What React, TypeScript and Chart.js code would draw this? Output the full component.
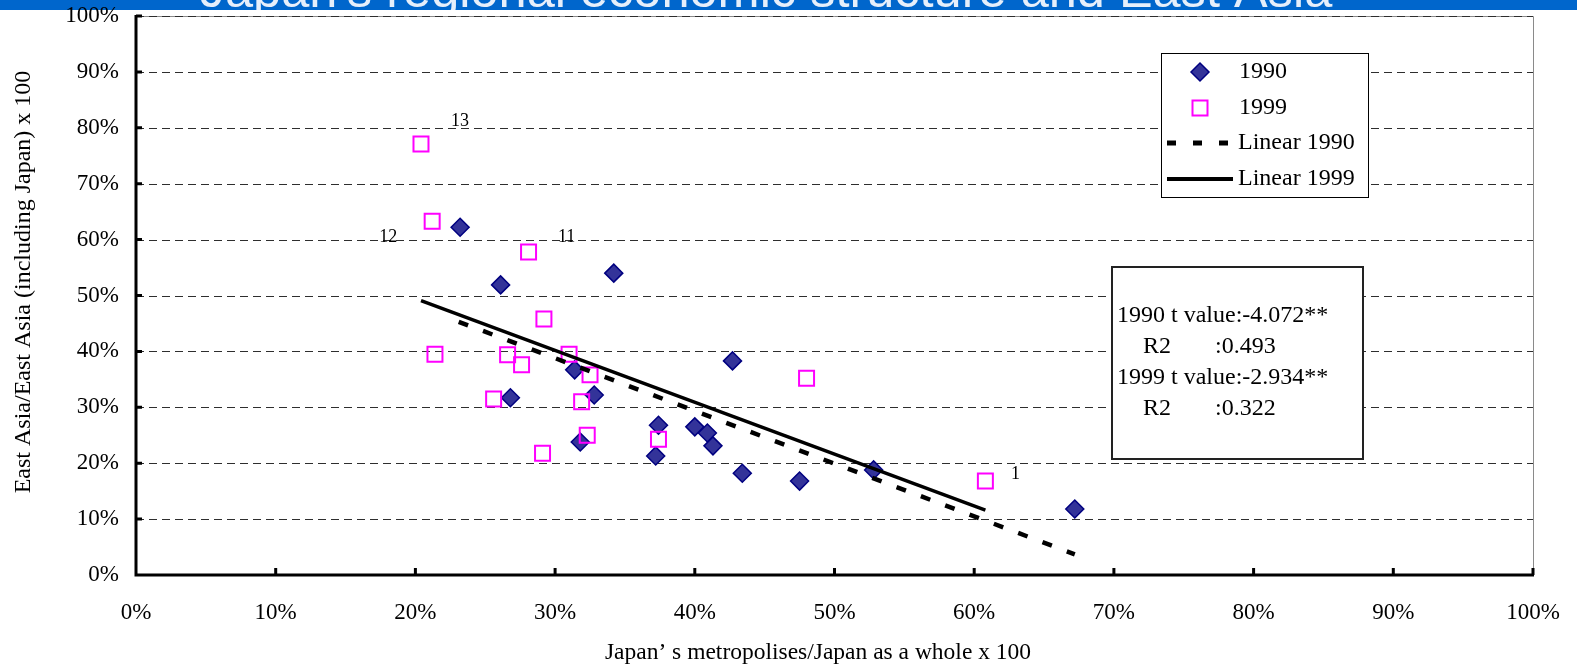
import React, { useEffect, useRef } from 'react';
import { Chart, registerables } from 'chart.js';

Chart.register(...registerables);

// ---------- data ----------
const slideTitle = "Japan's regional economic structure and East Asia";
const xAxisTitle = 'Japan’ s metropolises/Japan as a whole x 100';
const yAxisTitle = 'East Asia/East Asia (including Japan) x 100';

const tickValues = [0, 10, 20, 30, 40, 50, 60, 70, 80, 90, 100];

const x1990 = [23.2, 26.1, 34.2, 26.8, 31.4, 32.8, 31.8, 37.4, 37.2, 40.0, 40.9, 41.3, 42.7, 43.4, 47.5, 52.8, 67.2];
const y1990 = [62.2, 51.9, 54.0, 31.7, 36.7, 32.2, 23.8, 26.8, 21.3, 26.5, 25.4, 23.1, 38.3, 18.2, 16.8, 18.8, 11.8];

const x1999 = [20.4, 21.2, 28.1, 29.2, 21.4, 26.6, 27.6, 31.0, 32.5, 25.6, 31.9, 32.3, 29.1, 37.4, 48.0, 60.8];
const y1999 = [77.1, 63.3, 57.8, 45.8, 39.5, 39.4, 37.6, 39.5, 35.8, 31.5, 31.0, 25.0, 21.8, 24.3, 35.2, 16.8];

const trend1990X = [23.1, 67.2];
const trend1990Y = [45.3, 3.7];
const trend1999X = [20.4, 60.8];
const trend1999Y = [49.1, 11.6];

const legendLabels = ['1990', '1999', 'Linear 1990', 'Linear 1999'];
const statLeft = ['1990 t value:-4.072**', 'R2', '1999 t value:-2.934**', 'R2'];
const statRight = ['', ':0.493', '', ':0.322'];

// point labels: text and the 1999 point index they belong to
const pointLabelTexts = ['13', '12', '11', '1'];
const pointLabelIndex = [0, 1, 2, 15];

// ---------- styles / layout ----------
const W = 1577;
const H = 670;
const SERIF = '"Liberation Serif", "Times New Roman", Times, serif';
const BANNER_BLUE = '#0066cc';
const DIAMOND_FILL = '#333399';
const DIAMOND_EDGE = '#000080';
const SQUARE_EDGE = '#ff00ff';
const labelOffsets = [
  [39, -23],
  [-44, 16],
  [38, -15],
  [30, -7],
];

const toPts = (xs: number[], ys: number[]) => xs.map((x, i) => ({ x, y: ys[i] }));

const decorPlugin = {
  id: 'decor',
  beforeDraw(chart: any) {
    const ctx = chart.ctx as CanvasRenderingContext2D;
    ctx.save();
    ctx.fillStyle = '#ffffff';
    ctx.fillRect(0, 0, W, H);
    ctx.fillStyle = BANNER_BLUE;
    ctx.fillRect(0, 0, W, 10);
    ctx.beginPath();
    ctx.rect(0, 0, W, 10);
    ctx.clip();
    ctx.font = '50.5px "Liberation Sans", Arial, sans-serif';
    ctx.textAlign = 'center';
    ctx.textBaseline = 'alphabetic';
    ctx.fillStyle = '#e6effb';
    ctx.fillText(slideTitle, 766, 7);
    ctx.restore();
  },
  beforeDatasetsDraw(chart: any) {
    const ctx = chart.ctx as CanvasRenderingContext2D;
    const { left, right, top, bottom } = chart.chartArea;
    const xs = chart.scales.x;
    const ys = chart.scales.y;
    ctx.save();
    // thin plot border (top/right)
    ctx.strokeStyle = '#8a8a8a';
    ctx.lineWidth = 1;
    ctx.beginPath();
    ctx.moveTo(left, top + 0.5);
    ctx.lineTo(right + 0.5, top + 0.5);
    ctx.lineTo(right + 0.5, bottom);
    ctx.stroke();
    // dashed horizontal gridlines
    ctx.strokeStyle = '#2e2e2e';
    ctx.setLineDash([8, 5]);
    ctx.beginPath();
    tickValues.forEach((v) => {
      if (v === 0) return;
      const py = Math.round(ys.getPixelForValue(v)) + 0.5;
      ctx.moveTo(left, py);
      ctx.lineTo(right, py);
    });
    ctx.stroke();
    ctx.setLineDash([]);
    // thick axes
    ctx.strokeStyle = '#000';
    ctx.lineWidth = 3;
    ctx.beginPath();
    ctx.moveTo(left, top - 1);
    ctx.lineTo(left, bottom + 1.5);
    ctx.moveTo(left - 1.5, bottom);
    ctx.lineTo(right + 1, bottom);
    ctx.stroke();
    // inside tick marks
    ctx.beginPath();
    tickValues.forEach((v) => {
      if (v === 0) return;
      const px = xs.getPixelForValue(v);
      ctx.moveTo(px, bottom);
      ctx.lineTo(px, bottom - 7);
      const py = ys.getPixelForValue(v);
      ctx.moveTo(left, py);
      ctx.lineTo(left + 6, py);
    });
    ctx.stroke();
    ctx.restore();
  },
  afterDatasetsDraw(chart: any) {
    const ctx = chart.ctx as CanvasRenderingContext2D;
    const xs = chart.scales.x;
    const ys = chart.scales.y;
    ctx.save();
    // point labels
    ctx.fillStyle = '#000';
    ctx.font = `18px ${SERIF}`;
    ctx.textAlign = 'center';
    ctx.textBaseline = 'middle';
    pointLabelTexts.forEach((t, i) => {
      const idx = pointLabelIndex[i];
      const px = xs.getPixelForValue(x1999[idx]) + labelOffsets[i][0];
      const py = ys.getPixelForValue(y1999[idx]) + labelOffsets[i][1];
      ctx.fillText(t, px, py);
    });

    // legend box
    ctx.fillStyle = '#fff';
    ctx.fillRect(1161, 53, 207, 144);
    ctx.strokeStyle = '#000';
    ctx.lineWidth = 1;
    ctx.strokeRect(1161.5, 53.5, 207, 144);
    const rowY = [72, 108, 143, 179];
    // diamond
    ctx.beginPath();
    ctx.moveTo(1200 - 9, rowY[0]);
    ctx.lineTo(1200, rowY[0] - 9);
    ctx.lineTo(1200 + 9, rowY[0]);
    ctx.lineTo(1200, rowY[0] + 9);
    ctx.closePath();
    ctx.fillStyle = DIAMOND_FILL;
    ctx.fill();
    ctx.strokeStyle = DIAMOND_EDGE;
    ctx.lineWidth = 1.5;
    ctx.stroke();
    // square
    ctx.strokeStyle = SQUARE_EDGE;
    ctx.lineWidth = 2;
    ctx.strokeRect(1192.5, rowY[1] - 7.5, 15, 15);
    // dashed line
    ctx.strokeStyle = '#000';
    ctx.lineWidth = 5;
    ctx.setLineDash([9, 17]);
    ctx.beginPath();
    ctx.moveTo(1167, rowY[2]);
    ctx.lineTo(1232, rowY[2]);
    ctx.stroke();
    ctx.setLineDash([]);
    ctx.lineWidth = 4;
    ctx.beginPath();
    ctx.moveTo(1167, rowY[3]);
    ctx.lineTo(1233, rowY[3]);
    ctx.stroke();
    ctx.fillStyle = '#000';
    ctx.font = `24px ${SERIF}`;
    ctx.textAlign = 'left';
    ctx.textBaseline = 'middle';
    ctx.fillText(legendLabels[0], 1239, rowY[0]);
    ctx.fillText(legendLabels[1], 1239, rowY[1]);
    ctx.fillText(legendLabels[2], 1238, rowY[2]);
    ctx.fillText(legendLabels[3], 1238, rowY[3]);

    // statistics box
    ctx.fillStyle = '#fff';
    ctx.fillRect(1112, 267, 251, 192);
    ctx.strokeStyle = '#222';
    ctx.lineWidth = 2;
    ctx.strokeRect(1112, 267, 251, 192);
    ctx.fillStyle = '#000';
    const statY = [316, 347, 378, 409];
    statLeft.forEach((t, i) => {
      const isR = t === 'R2';
      ctx.fillText(t, isR ? 1143 : 1117, statY[i]);
      if (statRight[i]) ctx.fillText(statRight[i], 1215, statY[i]);
    });

    // axis titles
    ctx.font = `23.5px ${SERIF}`;
    ctx.textAlign = 'center';
    ctx.fillText(xAxisTitle, 818, 653);
    ctx.font = `24px ${SERIF}`;
    ctx.translate(24, 282);
    ctx.rotate(-Math.PI / 2);
    ctx.fillText(yAxisTitle, 0, 0);
    ctx.restore();
  },
};

export default function App() {
  const ref = useRef<HTMLCanvasElement | null>(null);
  useEffect(() => {
    if (!ref.current) return;
    const chart = new Chart(ref.current, {
      type: 'scatter',
      data: {
        datasets: [
          {
            label: 'Linear 1990',
            data: toPts(trend1990X, trend1990Y),
            showLine: true,
            borderColor: '#000',
            borderWidth: 4.5,
            borderDash: [10, 16],
            pointRadius: 0,
            order: 0,
          },
          {
            label: 'Linear 1999',
            data: toPts(trend1999X, trend1999Y),
            showLine: true,
            borderColor: '#000',
            borderWidth: 3.5,
            pointRadius: 0,
            order: 0,
          },
          {
            label: '1999',
            data: toPts(x1999, y1999),
            pointStyle: 'rect',
            pointRadius: 10.6,
            borderWidth: 2,
            borderColor: SQUARE_EDGE,
            backgroundColor: 'rgba(255,255,255,0)',
            order: 1,
          },
          {
            label: '1990',
            data: toPts(x1990, y1990),
            pointStyle: 'rectRot',
            pointRadius: 9,
            borderWidth: 1.5,
            borderColor: DIAMOND_EDGE,
            backgroundColor: DIAMOND_FILL,
            order: 2,
          },
        ],
      },
      options: {
        responsive: false,
        animation: false,
        events: [],
        layout: { padding: { left: 0, right: 44, top: 16, bottom: 0 } },
        plugins: { legend: { display: false }, tooltip: { enabled: false } },
        scales: {
          x: {
            type: 'linear',
            min: 0,
            max: 100,
            afterFit: (s: any) => {
              s.height = 95;
              s.paddingLeft = 0;
              s.paddingRight = 0;
              s.paddingTop = 0;
              s.paddingBottom = 0;
            },
            grid: { display: false, drawTicks: false },
            border: { display: false },
            ticks: {
              stepSize: 10,
              autoSkip: false,
              maxRotation: 0,
              padding: 24,
              color: '#000',
              font: { family: SERIF, size: 23 },
              callback: (v: any) => `${v}%`,
            },
          },
          y: {
            type: 'linear',
            min: 0,
            max: 100,
            afterFit: (s: any) => {
              s.width = 136;
              s.paddingLeft = 0;
              s.paddingRight = 0;
              s.paddingTop = 0;
              s.paddingBottom = 0;
            },
            grid: { display: false, drawTicks: false },
            border: { display: false },
            ticks: {
              stepSize: 10,
              autoSkip: false,
              padding: 17,
              color: '#000',
              font: { family: SERIF, size: 23 },
              callback: (v: any) => `${v}%`,
            },
          },
        },
      },
      plugins: [decorPlugin],
    });
    return () => chart.destroy();
  }, []);

  return (
    <div style={{ position: 'absolute', left: 0, top: 0, width: W, height: H }}>
      <canvas ref={ref} width={W} height={H} style={{ display: 'block', width: W, height: H }} />
    </div>
  );
}
